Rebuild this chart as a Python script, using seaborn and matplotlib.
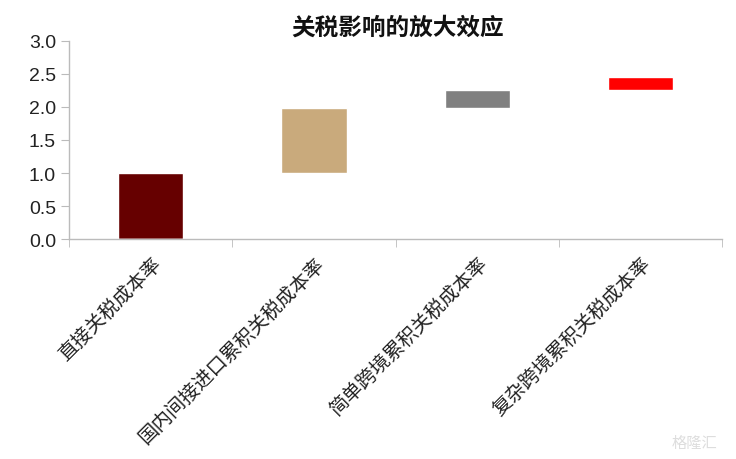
import matplotlib
matplotlib.use("Agg")
import matplotlib.pyplot as plt
import seaborn as sns
import pandas as pd

# waterfall data: where each bar starts and ends
categories = ['直接关税成本率', '国内间接进口累积关税成本率', '简单跨境累积关税成本率', '复杂跨境累积关税成本率']
bar_start = [0.0, 1.0, 1.98, 2.25]
bar_end = [1.0, 1.98, 2.25, 2.45]
colors = ['#660000', '#C9AA7C', '#808080', '#FF0000']

df = pd.DataFrame({'cat': categories, 'start': bar_start, 'end': bar_end})

sns.set_style('white')
plt.rcParams['font.family'] = ['Liberation Sans', 'Noto Sans CJK SC', 'DejaVu Sans']

fig = plt.figure(figsize=(7.36, 4.6), dpi=100)
ax = fig.add_axes([0.094, 0.478, 0.887, 0.431])

# full bar up to the end value, then blank out the part below the start
sns.barplot(data=df, x='cat', y='end', hue='cat', palette=colors, legend=False,
            width=0.4, saturation=1, ax=ax)
sns.barplot(data=df, x='cat', y='start', color='white', width=0.42,
            saturation=1, ax=ax)

ax.set_ylim(0, 3.0)
ax.set_yticks([0, 0.5, 1.0, 1.5, 2.0, 2.5, 3.0])
ax.set_yticklabels([f'{v:.1f}' for v in [0, 0.5, 1.0, 1.5, 2.0, 2.5, 3.0]], fontsize=14, color='#222222')
ax.set_xlim(-0.5, 3.5)
ax.set_xticks([0, 1, 2, 3])
ax.set_xticklabels(categories, rotation=45, ha='right', rotation_mode='anchor',
                   fontsize=14, color='#222222', family=['Noto Sans CJK SC', 'DejaVu Sans'])
ax.set_xlabel('')
ax.set_ylabel('')

# category boundary ticks on x axis
ax.set_xticks([-0.5, 0.5, 1.5, 2.5, 3.5], minor=True)
ax.tick_params(axis='x', which='major', length=0, pad=10)
ax.tick_params(axis='x', which='minor', length=6, color='#BBBBBB', direction='out', bottom=True)
ax.tick_params(axis='y', length=6, color='#BBBBBB', direction='out', left=True)

for s in ['top', 'right']:
    ax.spines[s].set_visible(False)
for s in ['left', 'bottom']:
    ax.spines[s].set_color('#BBBBBB')
    ax.spines[s].set_linewidth(1)

fig.text(0.540, 0.94, '关税影响的放大效应', ha='center', va='center', fontsize=17,
         fontweight='bold', family=['Noto Sans CJK SC', 'DejaVu Sans'], color='#111111')

fig.text(0.975, 0.035, '格隆汇', ha='right', va='center', fontsize=11, color='#DDDDDD',
         family=['Noto Sans CJK SC', 'DejaVu Sans'])

fig.savefig('out.png', dpi=100, facecolor='white')
